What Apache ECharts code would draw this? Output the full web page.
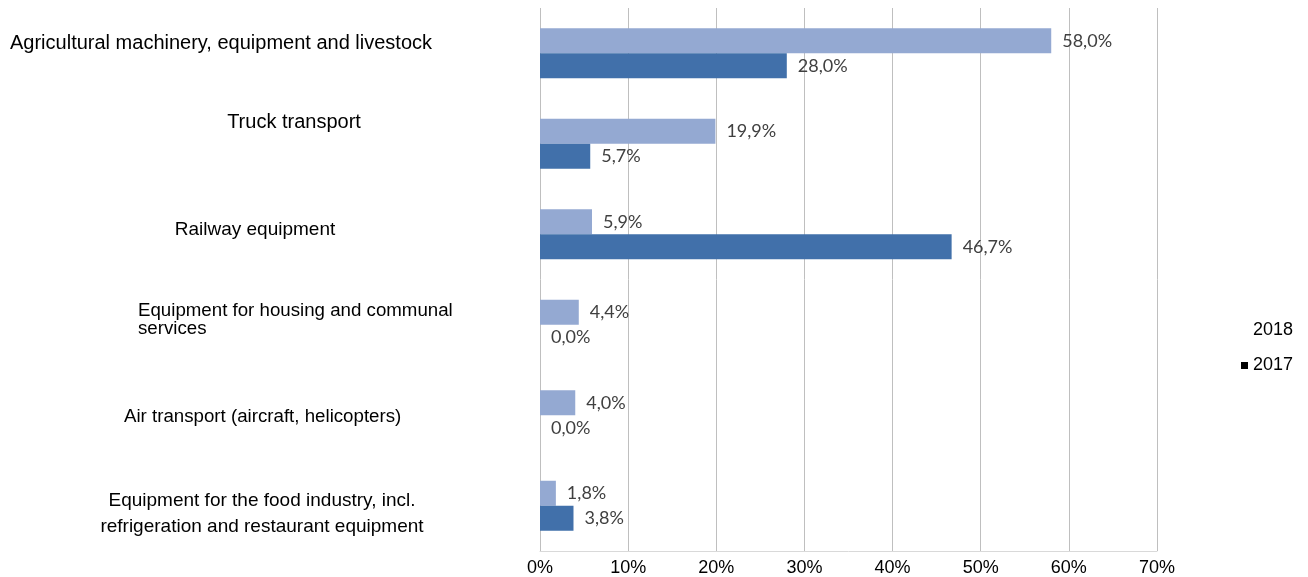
<!DOCTYPE html>
<html>
<head>
<meta charset="utf-8">
<script src="https://cdn.jsdelivr.net/npm/echarts@6/dist/echarts.min.js"></script>
<style>
  html, body { margin: 0; padding: 0; background: #fff; }
  #chart { width: 1308px; height: 577px; }
</style>
</head>
<body>
<div id="chart"></div>
<script>
// Data
const categories = [
    'Agricultural machinery, equipment and livestock',
    'Truck transport',
    'Railway equipment',
    'Equipment for housing and communal\nservices',
    'Air transport (aircraft, helicopters)',
    'Equipment for the food industry, incl.\nrefrigeration and restaurant equipment'
];
const values2018 = [58.0, 19.9, 5.9, 4.4, 4.0, 1.8];
const values2017 = [28.0, 5.7, 46.7, 0.0, 0.0, 3.8];
const xTicks = [0, 10, 20, 30, 40, 50, 60, 70];

// Where each category caption sits (the source places them by hand)
const captionLayout = [
    { x: 10, y: 43, align: 'left', size: 20, lh: 26 },
    { x: 294, y: 122, align: 'center', size: 20, lh: 26 },
    { x: 255, y: 230, align: 'center', size: 19, lh: 26 },
    { x: 138, y: 320, align: 'left', size: 18.7, lh: 18 },
    { x: 124, y: 417, align: 'left', size: 18.7, lh: 26 },
    { x: 262, y: 514, align: 'center', size: 19, lh: 26 }
];

(function () {
    'use strict';

    const chart = echarts.init(document.getElementById('chart'));
    const fmt = v => v.toFixed(1).replace('.', ',') + '%';

    const captions = categories.map((name, i) => ({
        type: 'text',
        x: captionLayout[i].x,
        y: captionLayout[i].y,
        style: {
            text: name,
            fill: '#000',
            font: captionLayout[i].size + 'px "Liberation Sans", Arial, sans-serif',
            lineHeight: captionLayout[i].lh,
            align: captionLayout[i].align,
            verticalAlign: 'middle'
        }
    }));

    const labelStyle = {
        show: true,
        position: 'right',
        distance: 11,
        formatter: p => fmt(p.value),
        color: '#404040',
        fontFamily: 'Lato, "Liberation Sans", sans-serif',
        fontSize: 18
    };

    const option = {
        animation: false,
        backgroundColor: '#fff',
        grid: { left: 540, right: 151, top: 8, bottom: 26 },
        legend: {
            orient: 'vertical',
            left: 1236,
            top: 315,
            itemWidth: 7,
            itemHeight: 7,
            itemGap: 14,
            textStyle: {
                color: '#000',
                fontFamily: '"Liberation Sans", Arial, sans-serif',
                fontSize: 18,
                lineHeight: 21
            },
            data: [
                { name: '2018', icon: 'rect', itemStyle: { color: '#fff' } },
                { name: '2017', icon: 'rect', itemStyle: { color: '#000' } }
            ]
        },
        xAxis: {
            type: 'value',
            min: xTicks[0],
            max: xTicks[xTicks.length - 1],
            interval: 10,
            axisLine: { show: true, lineStyle: { color: '#d9d9d9' } },
            axisTick: { show: false },
            axisLabel: {
                formatter: '{value}%',
                color: '#000',
                fontFamily: '"Liberation Sans", Arial, sans-serif',
                fontSize: 18,
                margin: 8
            },
            splitLine: { show: true, lineStyle: { color: '#bfbfbf', width: 1 } }
        },
        yAxis: {
            type: 'category',
            inverse: true,
            data: categories,
            axisLine: { show: false },
            axisTick: { show: false },
            axisLabel: { show: false }
        },
        series: [
            {
                name: '2018',
                type: 'bar',
                data: values2018,
                barWidth: 25,
                barGap: '0%',
                itemStyle: { color: '#94a9d2' },
                label: labelStyle
            },
            {
                name: '2017',
                type: 'bar',
                data: values2017,
                barWidth: 25,
                barGap: '0%',
                itemStyle: { color: '#4170aa' },
                label: labelStyle
            }
        ],
        graphic: captions
    };

    chart.setOption(option);
})();
</script>
</body>
</html>
